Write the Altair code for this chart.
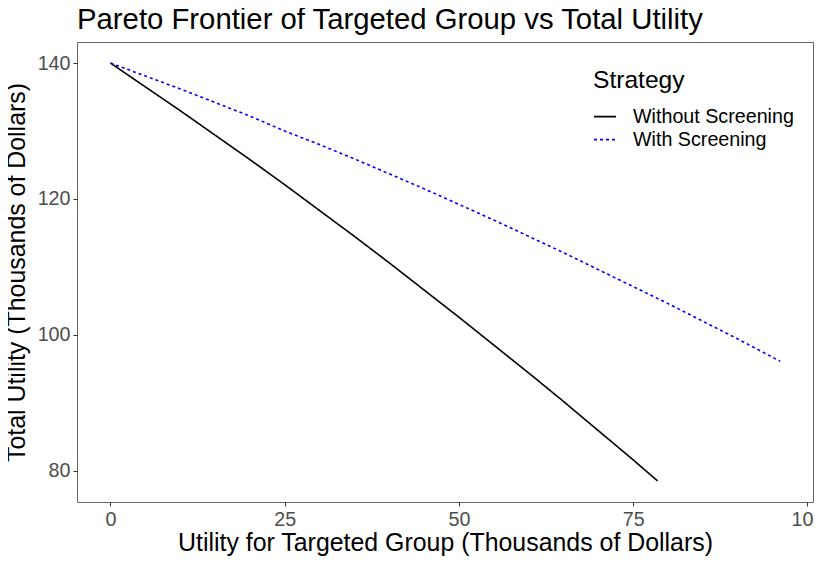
import altair as alt
import pandas as pd

# Data
without_x = [0, 5, 10, 15, 20, 25, 30, 35, 40, 45, 50, 55, 60, 65, 70, 75, 78.5]
without_y = [140, 136.5, 133.0, 129.4, 125.8, 122.1, 118.3, 114.5, 110.6, 106.6, 102.6, 98.5, 94.4, 90.2, 85.9, 81.6, 78.5]
with_x = [0, 5, 10, 15, 20, 25, 30, 35, 40, 45, 50, 55, 60, 65, 70, 75, 80, 85, 90, 96.1]
with_y = [140, 138.1, 136.2, 134.2, 132.2, 130.0, 128.0, 125.9, 123.7, 121.5, 119.2, 116.9, 114.5, 112.1, 109.6, 107.1, 104.6, 102.0, 99.4, 96.1]
strategies = ["Without Screening", "With Screening"]

rows = []
for x, y in zip(without_x, without_y):
    rows.append({"x": x, "y": y, "Strategy": strategies[0]})
for x, y in zip(with_x, with_y):
    rows.append({"x": x, "y": y, "Strategy": strategies[1]})
df = pd.DataFrame(rows)

FONT = "Liberation Sans"

leg = alt.Legend(orient="none", legendX=516, legendY=27, title="Strategy", labelLimit=400)

chart = alt.Chart(df).mark_line(strokeWidth=1.6).encode(
    x=alt.X("x:Q", scale=alt.Scale(domain=[-4.8, 100.8], nice=False, zero=False),
            axis=alt.Axis(values=[0, 25, 50, 75, 100], title="Utility for Targeted Group (Thousands of Dollars)",
                          labelFlush=False)),
    y=alt.Y("y:Q", scale=alt.Scale(domain=[75.4, 143.1], nice=False, zero=False),
            axis=alt.Axis(values=[80, 100, 120, 140], title="Total Utility (Thousands of Dollars)")),
    color=alt.Color("Strategy:N", scale=alt.Scale(domain=strategies, range=["black", "blue"]), legend=leg),
    strokeDash=alt.StrokeDash("Strategy:N", scale=alt.Scale(domain=strategies, range=[[1, 0], [3, 3]]), legend=leg),
    order="x:Q",
).properties(
    width=736, height=460,
    autosize=alt.AutoSizeParams(type="none"),
    padding={"left": 69, "top": 34, "right": 1, "bottom": 54},
    title=alt.TitleParams("Pareto Frontier of Targeted Group vs Total Utility", anchor="start",
                          frame="group", dx=0, offset=7, fontSize=29.3, font=FONT,
                          fontWeight="normal", color="black"),
).configure_view(
    stroke="#666666", strokeWidth=1
).configure_axis(
    domain=False, grid=False, ticks=True, tickSize=4, tickColor="#333333", tickWidth=1,
    labelFont=FONT, labelFontSize=19.7, labelColor="#4D4D4D", labelPadding=3,
    titleFont=FONT, titleFontSize=24.9, titleColor="black", titleFontWeight="normal",
).configure_axisX(titlePadding=2).configure_axisY(titlePadding=8).configure_legend(
    titleFont=FONT, titleFontSize=24.6, titleFontWeight="normal", titleColor="black",
    labelFont=FONT, labelFontSize=19.7, labelColor="black",
    symbolType="stroke", symbolSize=484, symbolStrokeWidth=1.6, labelOffset=16,
    titlePadding=11, rowPadding=1,
)

chart.save("out.html", embed_options={"renderer": "svg", "actions": False})
